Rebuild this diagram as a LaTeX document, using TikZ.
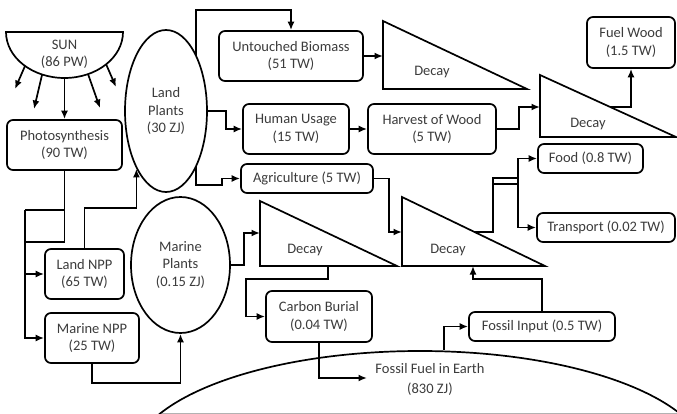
\documentclass[tikz,border=0pt]{standalone}
\usepackage{fontspec}
\setmainfont{Carlito}
\usetikzlibrary{arrows.meta,shapes.geometric,backgrounds,calc}
\definecolor{txt}{RGB}{60,60,60}
\begin{document}
\begin{tikzpicture}[x=1pt,y=-1pt,
  lw/.style={line width=1.7pt},
  fnt/.style={font=\fontsize{14.5}{17.5}\selectfont},
  box/.style={draw,lw,rounded corners=6pt,fill=white,align=center,inner sep=0pt,text=txt,fnt},
  oval/.style={draw,lw,ellipse,fill=white,align=center,inner sep=0pt,text=txt,fnt},
  lbl/.style={text=txt,align=center,inner sep=0pt,fnt},
  tri/.style={draw,lw,fill=white,line join=miter},
  arr/.style={lw,-{Latex[length=8.5pt,width=7pt]}}]
\useasboundingbox (0,0) rectangle (677,414);

% SUN
\draw[lw,fill=white] (6,32) -- (123,32) arc[start angle=0,end angle=-180,x radius=58.5pt,y radius=46pt] -- cycle;
\node[lbl] (SUN) at (64.5,54.5) {SUN\\(86 PW)};
\coordinate (s1) at (25,66);   \coordinate (e1) at (15,89);
\coordinate (s2) at (42,75);   \coordinate (e2) at (34,109);
\coordinate (s3) at (64.5,78);
\coordinate (s4) at (88,74);   \coordinate (e4) at (100,108);
\coordinate (s5) at (106,64);  \coordinate (e5) at (116,87);

% boxes
\node[box,minimum width=115pt,minimum height=50pt] (PH) at (64.5,145) {Photosynthesis\\(90 TW)};
\node[oval,minimum width=82pt,minimum height=162pt] (LP) at (166,111) {Land\\Plants\\(30 ZJ)};
\node[box,minimum width=144pt,minimum height=50pt] (UB) at (291,56) {Untouched Biomass\\(51 TW)};
\node[box,minimum width=106pt,minimum height=50pt] (HU) at (296,129) {Human Usage\\(15 TW)};
\node[box,minimum width=128pt,minimum height=50pt] (HW) at (432,129) {Harvest of Wood\\(5 TW)};
\node[box,minimum width=88pt,minimum height=51pt] (FW) at (631,42.5) {Fuel Wood\\(1.5 TW)};
\node[box,minimum width=132pt,minimum height=29pt] (AG) at (307,178.5) {Agriculture (5 TW)};
\node[box,minimum width=105pt,minimum height=29pt] (FO) at (590.5,158.5) {Food (0.8 TW)};
\node[box,minimum width=138pt,minimum height=29pt] (TR) at (606,227.5) {Transport (0.02 TW)};
\node[box,minimum width=146pt,minimum height=29pt] (FI) at (542,326.5) {Fossil Input (0.5 TW)};
\node[box,minimum width=106pt,minimum height=51pt] (CB) at (319,316.5) {Carbon Burial\\(0.04 TW)};
\node[oval,minimum width=99pt,minimum height=136pt] (MP) at (180.5,265) {Marine\\Plants\\(0.15 ZJ)};
\node[box,minimum width=79pt,minimum height=50pt] (LN) at (84.5,274) {Land NPP\\(65 TW)};
\node[box,minimum width=94pt,minimum height=50pt] (MN) at (92,338) {Marine NPP\\(25 TW)};

% decay triangles
\draw[tri] (383,21) coordinate (D1a) -- (383,89) -- (527,89) -- cycle;
\node[lbl] (D1) at (432,72) {Decay};
\draw[tri] (540,75) coordinate (D2a) -- (540,137) -- (676,137) -- cycle;
\node[lbl] (D2) at (588,124) {Decay};
\draw[tri] (402,197) coordinate (D3a) -- (402,266) -- (545,266) -- cycle;
\node[lbl] (D3) at (448,250) {Decay};
\draw[tri] (260,201) coordinate (D4a) -- (260,266) -- (397,266) -- cycle;
\node[lbl] (D4) at (305,250) {Decay};
\coordinate (D2in) at (540,107);
\coordinate (D2out) at (606,107);
\coordinate (D3in) at (402,232);
\coordinate (D3out) at (470,232);
\coordinate (D3b) at (473,266);
\coordinate (D4in) at (260,233);
\coordinate (D4out) at (328,266);

% fossil fuel in earth
\begin{scope}
\clip (0,0) rectangle (677,413);
\node[draw,lw,ellipse,inner sep=0pt,minimum width=576pt,minimum height=220pt] (FFe) at (420,461) {};
\end{scope}
\draw[gray!60,line width=1pt] (162,413.5) -- (677,413.5);
\node[lbl,font=\fontsize{14.5}{20}\selectfont] (FF) at (430,379) {Fossil Fuel in Earth\\(830 ZJ)};
\coordinate (FFtop) at ([xshift=24pt]FFe.north);
\coordinate (FFin) at (367,378);

% sun rays
\draw[arr] (s1) -- (e1);
\draw[arr] (s2) -- (e2);
\draw[arr] (s3) -- (PH.north);
\draw[arr] (s4) -- (e4);
\draw[arr] (s5) -- (e5);

\begin{pgfonlayer}{background}
% photosynthesis split
\coordinate (sp) at ([xshift=-39.5pt,yshift=-39pt]PH.south);
\draw[lw] (PH.south) |- ([yshift=-32pt]sp);
\draw[lw] ([yshift=-39pt]PH.south) -- (sp);
\draw[arr] (sp) |- (MN.west);
\draw[arr] (sp |- LN.west) -- (LN.west);
% NPP to plants
\draw[arr] (LN.north) -- ++(0,-40) -| (LP.south west);
\draw[arr] (MN.south) -- ++(0,19) -| (MP.south);
% land plants
\draw[arr] ([xshift=30pt]LP.center) |- ([yshift=20pt]UB.north) -- (UB.north);
\draw[arr] (LP.east) -- ++(18,0) |- (HU.west);
\draw[arr] ([xshift=30pt]LP.center) |- ([xshift=-18pt,yshift=-6.5pt]AG.west) |- (AG.west);
\draw[arr] (UB.east) -- (UB.east -| D1a);
\draw[arr] (HU.east) -- (HW.west);
\draw[arr] (HW.east) -- ++(22,0) |- (D2in);
\draw[arr] (D2out) -| (FW.south);
\draw[arr] (AG.east) -- ++(15,0) |- (D3in);
% decay 3 outputs
\coordinate (b1) at (493,178);
\coordinate (b2) at (518,178);
\draw[lw] (D3out) -| (b1) -- (b2);
\draw[lw] ([yshift=-6pt]b1) -- ([yshift=-6pt]b2);
\draw[arr] (b2) |- (FO.west);
\draw[arr] (b2) |- (TR.west);
% fossil
\draw[arr] (FI.north) -- ++(0,-32) -| (D3b);
\draw[arr] (FFtop) |- (FI.west);
% marine
\draw[arr] (MP.east) -- ++(13,0) |- (D4in);
\draw[arr] (D4out) |- ([xshift=-19pt,yshift=37.5pt]CB.west) |- (CB.west);
\draw[arr] (CB.south) |- (FFin);
\end{pgfonlayer}
\end{tikzpicture}
\end{document}
